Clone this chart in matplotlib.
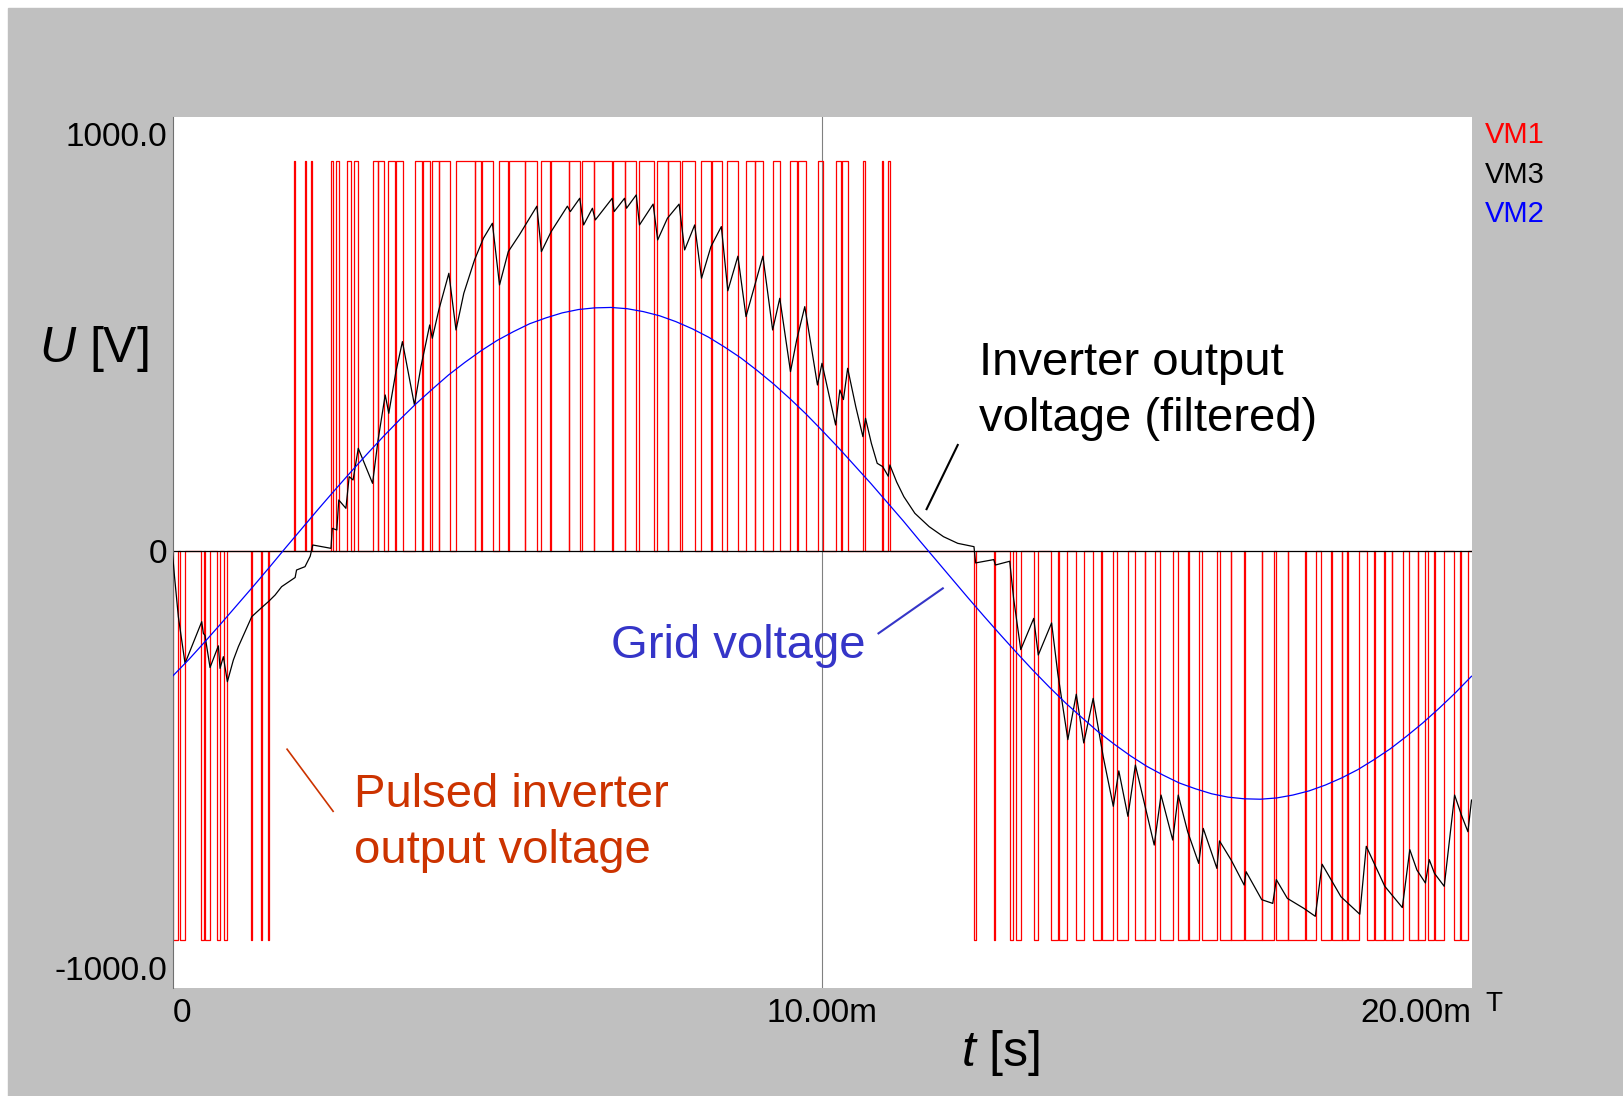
"""
PWM inverter simulation plot: pulsed output, filtered output and grid voltage
"""
import numpy as np
import matplotlib
matplotlib.use('Agg')
import matplotlib.pyplot as plt
from matplotlib.patches import Rectangle

plt.rcParams['font.family'] = ['Liberation Sans', 'DejaVu Sans']
plt.rcParams['mathtext.fontset'] = 'custom'
plt.rcParams['mathtext.rm'] = 'Liberation Sans'
plt.rcParams['mathtext.it'] = 'Liberation Sans:italic'

# time in ms, voltage in V
pulse_level = 935.0

pos_on = [1.870, 2.035, 2.138, 2.438, 2.519, 2.684, 2.797, 3.085, 3.170, 3.325, 3.445,
          3.726, 3.850, 4.003, 4.106, 4.364, 4.660, 4.763, 5.031, 5.175, 5.431, 5.678,
          5.827, 6.109, 6.305, 6.494, 6.777, 6.971, 7.188, 7.461, 7.634, 7.846, 8.143,
          8.307, 8.539, 8.832, 8.975, 9.242, 9.515, 9.628, 9.935, 10.208, 10.306, 10.635,
          10.921, 11.020]
pos_off = [1.885, 2.050, 2.152, 2.478, 2.570, 2.746, 2.858, 3.162, 3.263, 3.428, 3.547,
           3.840, 3.968, 4.096, 4.265, 4.650, 4.753, 4.928, 5.165, 5.421, 5.612, 5.817,
           6.099, 6.279, 6.484, 6.767, 6.961, 7.137, 7.408, 7.624, 7.820, 8.051, 8.297,
           8.462, 8.709, 8.965, 9.088, 9.350, 9.618, 9.746, 10.012, 10.296, 10.404, 10.659,
           10.935, 11.040]

neg_on = [0.000, 0.116, 0.439, 0.500, 0.681, 0.798, 1.203, 1.367, 1.469, 12.339, 12.651,
          12.894, 12.992, 13.263, 13.532, 13.649, 13.917, 14.173, 14.312, 14.549, 14.820,
          14.979, 15.200, 15.482, 15.646, 15.858, 16.129, 16.304, 16.515, 16.777, 16.988,
          17.178, 17.449, 17.681, 17.845, 18.010, 18.092, 18.385, 18.512, 18.666, 18.780,
          19.042, 19.181, 19.334, 19.437, 19.735, 19.838]
neg_off = [0.089, 0.193, 0.490, 0.578, 0.732, 0.835, 1.218, 1.382, 1.484, 12.376, 12.666,
           12.946, 13.059, 13.331, 13.639, 13.778, 14.034, 14.302, 14.481, 14.718, 14.969,
           15.123, 15.405, 15.636, 15.806, 16.089, 16.294, 16.490, 16.767, 16.952, 17.168,
           17.439, 17.604, 17.835, 18.000, 18.082, 18.271, 18.502, 18.656, 18.770, 18.940,
           19.171, 19.283, 19.427, 19.581, 19.827, 19.941]

# filtered inverter output (VM3)
vm3_t = [0.0, 0.03, 0.09, 0.193, 0.45, 0.475, 0.50, 0.578, 0.706, 0.732, 0.783, 0.845,
         0.937, 1.014, 1.117, 1.22, 1.374, 1.476, 1.58, 1.68, 1.888, 1.91, 2.04, 2.12,
         2.16, 2.44, 2.46, 2.53, 2.56,
         2.67, 2.72, 2.78, 2.86, 3.08, 3.165, 3.275, 3.33, 3.44, 3.54, 3.725, 3.825, 3.96,
         4.00, 4.10, 4.255, 4.365, 4.485, 4.65, 4.787, 4.925, 5.035, 5.17, 5.34, 5.61, 5.68,
         5.83, 6.08, 6.125, 6.27, 6.33, 6.465, 6.51, 6.77, 6.80, 6.96, 6.99, 7.14, 7.19,
         7.40, 7.47, 7.62, 7.80, 7.885, 8.04, 8.145, 8.29, 8.45, 8.55, 8.705, 8.83, 9.09,
         9.24, 9.35, 9.515, 9.61, 9.735, 9.93, 10.00, 10.21, 10.275, 10.33, 10.395, 10.52,
         10.63, 10.67, 10.76, 10.85, 10.935, 11.02, 11.045, 11.15, 11.26, 11.43, 11.65,
         11.87, 12.09, 12.34,
         12.365, 12.645, 12.67, 12.89, 12.95, 13.06, 13.26, 13.33, 13.535, 13.63, 13.785,
         13.915, 14.03, 14.175, 14.33, 14.485, 14.57, 14.71, 14.825, 15.115, 15.22, 15.40,
         15.485, 15.63, 15.80, 15.87, 16.08, 16.12, 16.30, 16.50, 16.53, 16.77, 16.94,
         16.995, 17.165, 17.42, 17.595, 17.70, 17.99, 18.28, 18.38, 18.665, 18.935, 19.05,
         19.16, 19.29, 19.35, 19.43, 19.58, 19.74, 19.845, 19.945, 20.0]
vm3_v = [-5, -60, -158, -270, -170, -198, -203, -280, -228, -282, -254, -314,
         -262, -230, -194, -158, -136, -122, -106, -86, -64, -46, -38, -13,
         14, 6, 54, 50, 122,
         102, 178, 170, 246, 162, 266, 374, 330, 430, 502, 350, 442, 542,
         510, 578, 666, 530, 618, 698, 750, 786, 638, 718, 758, 827, 718,
         766, 827, 814, 846, 782, 822, 794, 846, 814, 846, 822, 854, 782,
         832, 746, 798, 832, 722, 782, 654, 730, 778, 624, 707, 562, 707,
         530, 606, 430, 506, 586, 398, 450, 302, 386, 363, 438, 346,
         274, 318, 258, 210, 202, 179, 206, 165, 130, 90, 58,
         34, 18, 10,
         -29, -21, -34, -25, -114, -237, -162, -250, -173, -294, -453,
         -344, -461, -354, -494, -613, -528, -637, -514, -706, -586, -694,
         -586, -674, -750, -666, -762, -696, -742, -802, -770, -837, -846,
         -789, -834, -858, -877, -752, -830, -872, -709, -805, -856, -717,
         -766, -797, -741, -774, -805, -586, -634, -674, -598]

# grid voltage (VM2), read every 0.25 ms
vm2_t = [0.25 * i for i in range(81)]
vm2_v = [-301, -261, -218, -174, -129, -84, -38, 9, 55, 101, 146, 190, 233, 275, 315,
         353, 388, 422, 452, 480, 505, 526, 545, 559, 571, 579, 583, 584, 581, 574,
         564, 550, 533, 513, 489, 463, 433, 401, 366, 329, 289, 248, 205, 162, 117,
         72, 25, -21, -67, -113, -158, -202, -245, -287, -327, -365, -400, -434, -464,
         -492, -517, -538, -557, -571, -583, -591, -595, -596, -593, -586, -576, -562,
         -545, -525, -501, -475, -445, -413, -378, -341, -301]

y_ticks = [-1000, 0, 1000]
y_labels = ['-1000.0', '0', '1000.0']
x_ticks = [0, 10, 20]
x_labels = ['0', '10.00m', '20.00m']


def pulse_wave():
    pulses = [(a, b, pulse_level) for a, b in zip(pos_on, pos_off)]
    pulses += [(a, b, -pulse_level) for a, b in zip(neg_on, neg_off)]
    pulses.sort()
    t, v = [0.0], [0.0]
    for a, b, lvl in pulses:
        t += [a, a, b, b]
        v += [0, lvl, lvl, 0]
    t.append(20.0)
    v.append(0.0)
    return t, v


def main():
    W, H = 1623, 1096
    fig = plt.figure(figsize=(W / 100, H / 100), dpi=100, facecolor='white')
    fig.patches.append(Rectangle((8 / W, 0), 1, 1 - 8 / H, transform=fig.transFigure,
                                 color='#c0c0c0', zorder=-10))
    ax = fig.add_axes([172.5 / W, 1 - 988 / H, 1299 / W, 871 / H])
    ax.set_facecolor('white')

    red_t, red_v = pulse_wave()
    ax.axvline(10, color='#808080', lw=0.8, zorder=1)
    ax.plot(red_t, red_v, color='#ff0000', lw=0.9, zorder=2)
    ax.axhline(0, color='black', lw=0.9, zorder=2.5)
    ax.plot(vm3_t, vm3_v, color='black', lw=0.9, zorder=3)
    ax.plot(vm2_t, vm2_v, color='#0000ff', lw=0.9, zorder=4)

    ax.set_xlim(0, 20)
    ax.set_ylim(-1049, 1041)
    for s in ('top', 'right', 'bottom'):
        ax.spines[s].set_visible(False)
    ax.spines['left'].set_color('#707070')
    ax.spines['left'].set_linewidth(0.8)

    ax.set_yticks(y_ticks)
    ax.set_yticklabels(y_labels, fontsize=24)
    ax.set_xticks(x_ticks)
    ax.set_xticklabels(x_labels, fontsize=24)
    ax.tick_params(axis='both', length=0)
    ax.tick_params(axis='y', pad=4)
    ax.tick_params(axis='x', pad=7)
    xl = ax.get_xticklabels()
    xl[0].set_ha('left')
    xl[2].set_ha('right')

    fig.text(1494 / W, 1 - 1004 / H, 'T', fontsize=20, ha='center', va='center')
    for lbl, col, y in (('VM1', '#ff0000', 135), ('VM3', 'black', 175), ('VM2', '#0000ff', 214)):
        fig.text(1485 / W, 1 - y / H, lbl, color=col, fontsize=21, ha='left', va='center')

    fig.text(94 / W, 1 - 349 / H, r'$U$ [V]', fontsize=36, ha='center', va='center')
    fig.text(1001 / W, 1 - 1053 / H, r'$t$ [s]', fontsize=36, ha='center', va='center')

    # annotations
    ax.text(12.41, 383, 'Inverter output\nvoltage (filtered)', fontsize=34,
            color='black', ha='left', va='center', linespacing=1.35)
    ax.plot([12.09, 11.61], [254, 100], color='black', lw=1.5)
    ax.text(8.71, -229, 'Grid voltage', fontsize=34, color='#3535c8',
            ha='center', va='center')
    ax.plot([10.87, 11.86], [-198, -90], color='#3535c8', lw=1.5)
    ax.text(2.80, -652, 'Pulsed inverter\noutput voltage', fontsize=34,
            color='#cc3300', ha='left', va='center', linespacing=1.35)
    ax.plot([1.764, 2.473], [-476, -625], color='#cc3300', lw=1.2)

    fig.savefig('out.png', dpi=100, facecolor=fig.get_facecolor())
    plt.close(fig)


if __name__ == "__main__":
    main()
